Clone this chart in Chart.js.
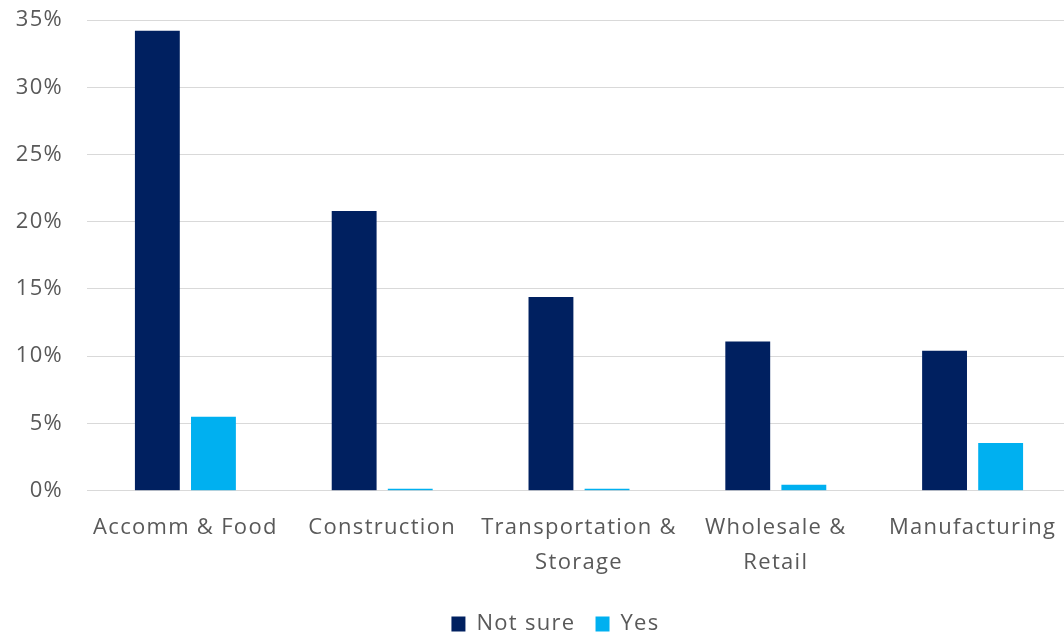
<!DOCTYPE html>
<html>
<head>
<meta charset="utf-8">
<script src="https://cdn.jsdelivr.net/npm/chart.js@4.4.1/dist/chart.umd.min.js"></script>
<style>
  html, body { margin: 0; padding: 0; background: #ffffff; overflow: hidden; }
  #wrap { width: 1071px; height: 635px; }
</style>
</head>
<body>
<div id="wrap"><canvas id="chart" width="1071" height="635"></canvas></div>
<script>
// Sectors shown along the category axis (multi-line labels as arrays)
const sectors = [
  'Accomm & Food',
  'Construction',
  ['Transportation &', 'Storage'],
  ['Wholesale &', 'Retail'],
  'Manufacturing'
];

// Share of businesses by answer, in percent
const notSure = [34.2, 20.8, 14.4, 11.1, 10.4];
const yes = [5.5, 0.15, 0.15, 0.45, 3.55];

// Value axis
const yMax = 35;
const yStep = 5;

const textColor = '#595959';
const fontFamily = '"Open Sans", "Noto Sans", sans-serif';
const fontSize = 22;

// Slightly tracked-out lettering for all chart text
const tracking = {
  id: 'tracking',
  beforeLayout(chart) { chart.ctx.letterSpacing = '1.3px'; },
  beforeDraw(chart) { chart.ctx.letterSpacing = '1.3px'; },
  // nudge the legend row right (under the bars) and down toward the bottom edge
  afterLayout(chart) {
    const lg = chart.legend;
    lg.left += 20;
    lg.right += 20;
    lg.top += 10;
    lg.bottom += 10;
  }
};

new Chart(document.getElementById('chart'), {
  type: 'bar',
  data: {
    labels: sectors,
    datasets: [
      {
        label: 'Not sure',
        data: notSure,
        backgroundColor: '#002060',
        borderWidth: 0,
        barPercentage: 0.8,
        categoryPercentage: 0.57
      },
      {
        label: 'Yes',
        data: yes,
        backgroundColor: '#00B0F0',
        borderWidth: 0,
        barPercentage: 0.8,
        categoryPercentage: 0.57
      }
    ]
  },
  plugins: [tracking],
  options: {
    responsive: false,
    animation: false,
    layout: { padding: { top: 20, right: 0, bottom: 0, left: 0 } },
    plugins: {
      legend: {
        position: 'bottom',
        labels: {
          boxWidth: 14,
          boxHeight: 15,
          padding: 20,
          color: textColor,
          font: { family: fontFamily, size: fontSize }
        }
      },
      tooltip: { enabled: false }
    },
    scales: {
      x: {
        grid: { display: false },
        border: { display: false },
        ticks: {
          color: textColor,
          font: { family: fontFamily, size: fontSize, lineHeight: 1.59 },
          padding: 12,
          maxRotation: 0,
          autoSkip: false
        },
        afterFit: (scale) => { scale.height = 92.3; }
      },
      y: {
        min: 0,
        max: yMax,
        grid: { color: '#d9d9d9', lineWidth: 1, drawTicks: false },
        border: { display: false },
        ticks: {
          stepSize: yStep,
          color: textColor,
          font: { family: fontFamily, size: fontSize },
          padding: 24,
          callback: (v) => v + '%'
        },
        afterFit: (scale) => {
          scale.width = 87;
          scale.paddingTop = 0;
          scale.paddingBottom = 0;
        }
      }
    }
  }
});
</script>
</body>
</html>
